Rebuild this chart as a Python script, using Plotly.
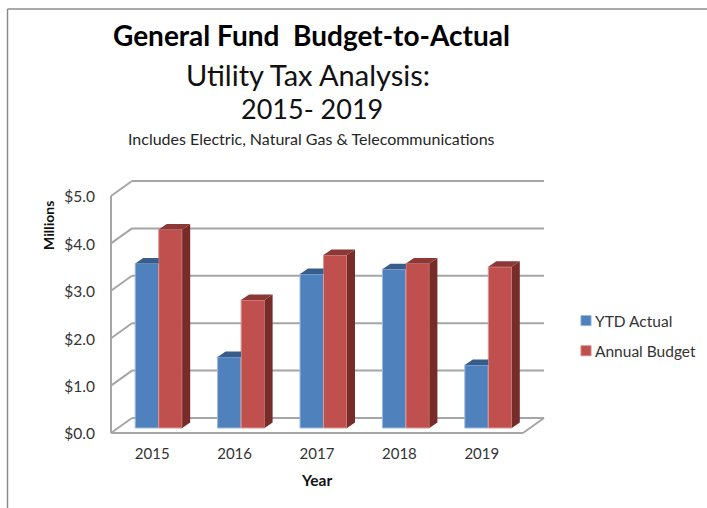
import plotly.graph_objects as go

years = [2015, 2016, 2017, 2018, 2019]
ytd_actual = [3.47, 1.50, 3.25, 3.35, 1.33]
annual_budget = [4.19, 2.70, 3.65, 3.47, 3.40]
y_ticks = [0, 1, 2, 3, 4, 5]
y_labels = ["$0.0", "$1.0", "$2.0", "$3.0", "$4.0", "$5.0"]

W, H = 707, 508
PL, PR, PT, PB = 109, 545, 179, 435
PX_X, PX_Y = 82.4, 47.4
WALL_DX, WALL_DY = 21 / PX_X, 15 / PX_Y
BAR_DX, BAR_DY = 8 / PX_X, 5.5 / PX_Y
SHIFT_X, BASE_Y = 6.5 / PX_X, 5 / PX_Y
BAR_W = 23.5 / PX_X
x_lo, x_hi = years[0] - 0.5, years[-1] + 0.5
GRID = "#A6A6A6"


def px(x):
    return x / W


def py(y):
    return (H - y) / H


def top_face(vals, offset, clip=False):
    xs, ys = [], []
    for yr, v in zip(years, vals):
        x0 = yr + SHIFT_X + offset
        x1 = x0 + BAR_W
        xb = x1 if clip else x1 + BAR_DX
        xs += [x0, x0 + BAR_DX, xb, x1, x0, None]
        ys += [BASE_Y + v, BASE_Y + v + BAR_DY, BASE_Y + v + BAR_DY, BASE_Y + v, BASE_Y + v, None]
    return xs, ys


def side_face(vals, offset):
    xs, ys = [], []
    for yr, v in zip(years, vals):
        x1 = yr + SHIFT_X + offset + BAR_W
        xs += [x1, x1 + BAR_DX, x1 + BAR_DX, x1, x1, None]
        ys += [BASE_Y, BASE_Y + BAR_DY, BASE_Y + v + BAR_DY, BASE_Y + v, BASE_Y, None]
    return xs, ys


fig = go.Figure()
fig.add_bar(name="YTD Actual", x=[y + SHIFT_X for y in years], y=ytd_actual, legendgroup="a",
            base=[BASE_Y] * 5, offsetgroup="a", marker=dict(color="#4F81BD", line=dict(color="#9DB9DC", width=1)))
fig.add_bar(name="Annual Budget", x=[y + SHIFT_X for y in years], y=annual_budget, legendgroup="b",
            base=[BASE_Y] * 5, offsetgroup="b", marker=dict(color="#C0504D", line=dict(color="#D99A98", width=1)))

for (xs, ys), col in [
    (top_face(ytd_actual, -BAR_W, clip=True), "#385D8A"),
    (side_face(annual_budget, 0), "#772C2A"),
    (top_face(annual_budget, 0), "#8C3836"),
]:
    fig.add_trace(go.Scatter(x=xs, y=ys, mode="lines", fill="toself", fillcolor=col,
                             line=dict(width=0, color=col), showlegend=False, hoverinfo="skip"))

shapes = []


def wall(x0, y0, x1, y1):
    shapes.append(dict(type="line", xref="x", yref="y", x0=x0, y0=y0, x1=x1, y1=y1,
                       layer="below", line=dict(color=GRID, width=2)))


for t in y_ticks:
    wall(x_lo, t, x_lo + WALL_DX, t + WALL_DY)
    wall(x_lo + WALL_DX, t + WALL_DY, x_hi + WALL_DX, t + WALL_DY)
wall(x_lo, y_ticks[0], x_lo, y_ticks[-1])
wall(x_lo, y_ticks[0], x_hi, y_ticks[0])
wall(x_hi, y_ticks[0], x_hi + WALL_DX, WALL_DY)

FRAME = "#8C8C8C"
shapes.append(dict(type="line", xref="paper", yref="paper", x0=px(7.5), x1=px(W), y0=py(9), y1=py(9),
                   line=dict(color=FRAME, width=1.5)))
shapes.append(dict(type="line", xref="paper", yref="paper", x0=px(7.5), x1=px(7.5), y0=py(9), y1=py(H),
                   line=dict(color=FRAME, width=1.5)))

FONT = "Lato"


def label(text, x, y, size, color="#262626", bold=False, angle=0):
    return dict(text=f"<b>{text}</b>" if bold else text, xref="paper", yref="paper", x=px(x), y=py(y),
                xanchor="center", yanchor="middle", showarrow=False, textangle=angle,
                font=dict(family=FONT, size=size, color=color))


annotations = [
    label("General Fund  Budget-to-Actual", 311, 35, 28, "#000000", True),
    label("Utility Tax Analysis:", 308, 75, 29, "#111111"),
    label("2015- 2019", 312, 109, 27, "#111111"),
    label("Includes Electric, Natural Gas &amp; Telecommunications", 311.5, 139, 16, "#262626"),
    label("Millions", 48, 226, 14, "#111111", True, -90),
    label("Year", 316, 480, 15.5, "#111111", True),
]

fig.update_layout(
    width=W, height=H, autosize=False,
    margin=dict(l=0, r=0, t=0, b=0, pad=0, autoexpand=False),
    paper_bgcolor="white", plot_bgcolor="white",
    barmode="group", bargap=1 - 2 * BAR_W, bargroupgap=0,
    font=dict(family=FONT, color="#333333"),
    shapes=shapes, annotations=annotations,
    legend=dict(x=px(566), y=py(304), xanchor="left", yanchor="top", itemwidth=30, indentation=-11,
                font=dict(family=FONT, size=15.5, color="#333333"), tracegroupgap=7,
                bgcolor="rgba(0,0,0,0)"),
    xaxis=dict(domain=[PL / W, PR / W], range=[x_lo - 2 / PX_X, x_lo + (PR - PL - 2) / PX_X],
               tickmode="array", tickvals=years,
               ticktext=[str(y) for y in years], showgrid=False, zeroline=False, showline=False,
               ticks="", tickfont=dict(family=FONT, size=15, color="#333333"), ticklabelstandoff=8),
    yaxis=dict(domain=[(H - PB) / H, (H - PT) / H], range=[-2 / PX_Y, -2 / PX_Y + (PB - PT) / PX_Y],
               tickmode="array", tickvals=y_ticks,
               ticktext=y_labels, showgrid=False, zeroline=False, showline=False,
               ticks="", tickfont=dict(family=FONT, size=15.5, color="#333333"), ticklabelstandoff=13,
               ticklabelshift=1),
)

fig.write_html("out.html", config={"displayModeBar": False},
               post_script="document.body.style.margin='0';"
                           "document.querySelectorAll('.legendsymbols').forEach(function(g){"
                           "g.setAttribute('transform','translate(14,0) scale(0.85)');});")
